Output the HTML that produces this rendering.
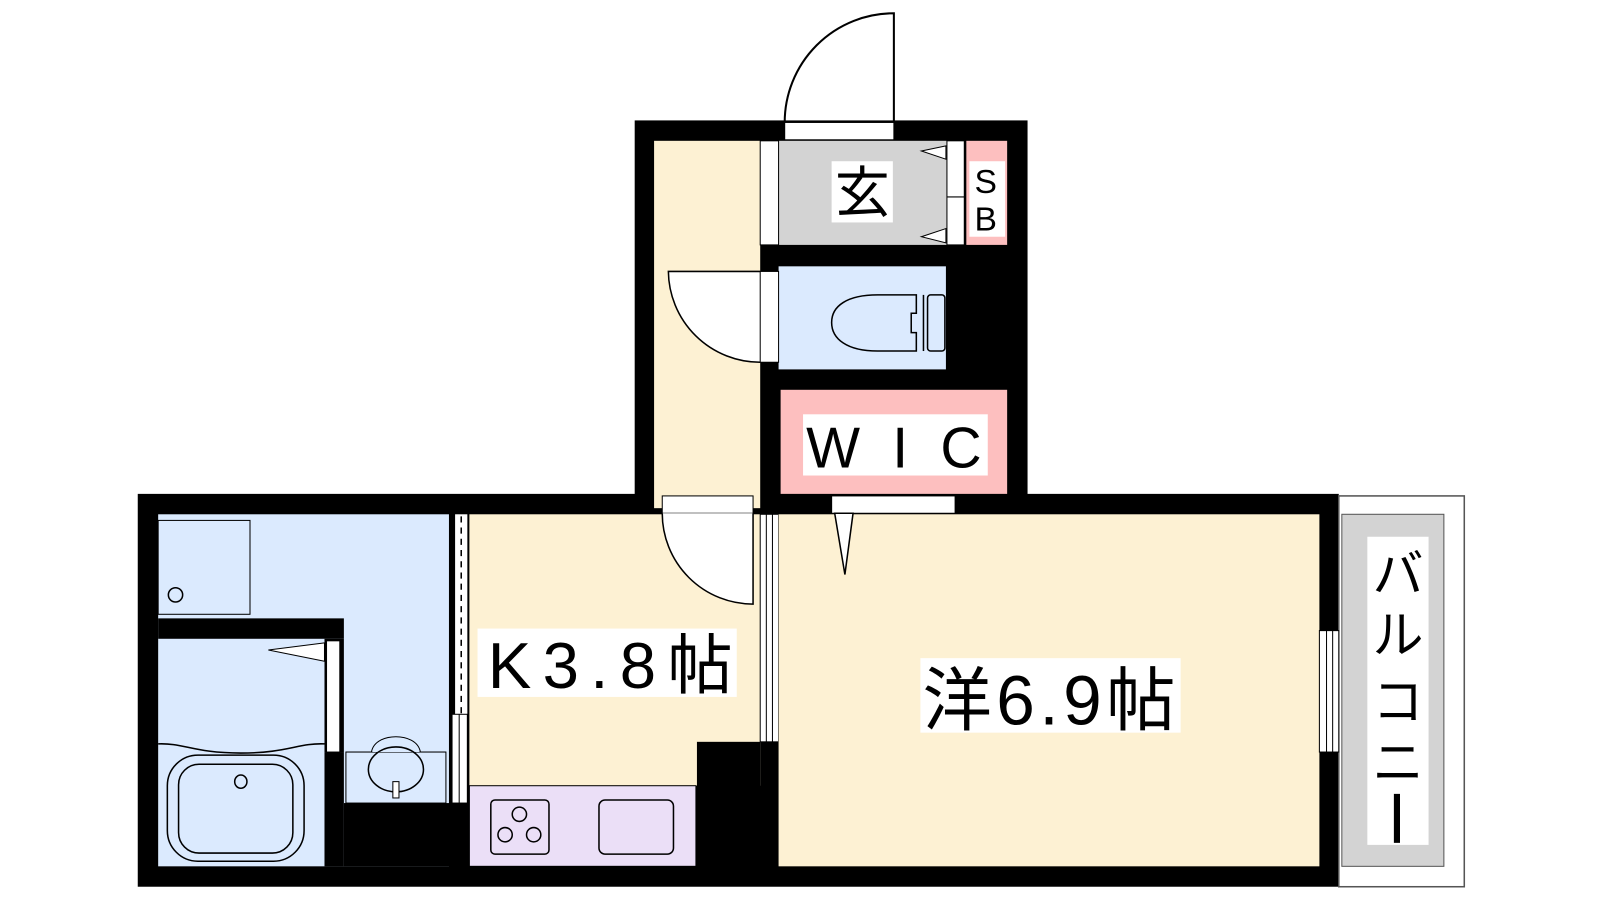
<!DOCTYPE html>
<html><head><meta charset="utf-8"><style>
html,body{margin:0;padding:0;background:#fff;width:1600px;height:900px;overflow:hidden}
svg{display:block}
text{font-family:"Liberation Sans","Noto Sans CJK JP",sans-serif;fill:#000}
</style></head><body>
<svg width="1600" height="900" viewBox="0 0 1568 882" xmlns="http://www.w3.org/2000/svg">
<rect width="1568" height="882" fill="#fff"/>
<path d="M876,120 L876,13 A107,107 0 0 0 769,120" fill="#fff" stroke="#000" stroke-width="2"/>
<rect x="622" y="118" width="385" height="380" fill="#000"/>
<rect x="135" y="484" width="1177" height="385" fill="#000"/>
<rect x="1312" y="486" width="123" height="383" fill="#fff" stroke="#555" stroke-width="1.5"/>
<rect x="1315" y="504" width="100" height="345" fill="#d3d3d3" stroke="#555" stroke-width="1"/>
<rect x="1340" y="526" width="60" height="302" fill="#fff"/>
<text x="1370" y="580" font-size="50" text-anchor="middle">バ</text>
<text x="1370" y="640" font-size="50" text-anchor="middle">ル</text>
<text x="1370" y="705" font-size="50" text-anchor="middle">コ</text>
<text x="1370" y="765" font-size="50" text-anchor="middle">ニ</text>
<rect x="1366" y="778" width="6" height="48" fill="#000"/>

<rect x="641" y="138" width="104" height="360" fill="#fdf1d3"/>
<rect x="769" y="120" width="107" height="17" fill="#fff" stroke="#000" stroke-width="1"/>
<rect x="763" y="138" width="165" height="102" fill="#d3d3d3"/>
<rect x="745" y="138" width="18" height="102" fill="#fff" stroke="#000" stroke-width="1"/>
<rect x="928" y="138" width="17" height="102" fill="#fff" stroke="#000" stroke-width="1"/>
<line x1="928" y1="193" x2="945" y2="193" stroke="#000"/>
<path d="M927,143 L903,148 L927,156 Z M927,224 L903,232 L927,238 Z" fill="#fff" stroke="#000" stroke-width="1"/>
<rect x="947" y="138" width="40" height="102" fill="#fdbfbf"/>
<rect x="950" y="158" width="35" height="74" fill="#fff"/>
<text x="966" y="189" font-size="33" text-anchor="middle">S</text>
<text x="966" y="226" font-size="33" text-anchor="middle">B</text>
<rect x="815" y="158" width="60" height="60" fill="#fff"/>
<text x="845" y="208" font-size="54" text-anchor="middle">玄</text>
<rect x="763" y="261" width="164" height="101" fill="#dbeafe"/>
<path d="M745,266 L655,266 A90,90 0 0 0 745,355" fill="#fff" stroke="#000" stroke-width="1.5"/>
<rect x="745" y="266" width="18" height="89" fill="#fff" stroke="#000" stroke-width="1"/>
<path d="M898,289 L860,289 C830,289 815,300 815,316 C815,332 830,344 860,344 L898,344 L898,326 L893,326 L893,307 L898,307 Z" fill="#dbeafe" stroke="#000" stroke-width="1.5"/>
<line x1="905" y1="289" x2="905" y2="344" stroke="#000" stroke-width="1.5"/>
<rect x="909" y="289" width="17" height="55" rx="3" fill="#dbeafe" stroke="#000" stroke-width="1.5"/>
<rect x="765" y="382" width="222" height="102" fill="#fdbfbf"/>
<rect x="787" y="406" width="181" height="60" fill="#fff"/>
<text x="790" y="458" font-size="56" textLength="172" lengthAdjust="spacing">WIC</text>

<rect x="155" y="504" width="285" height="345" fill="#dbeafe"/>
<rect x="155" y="510" width="90" height="92" fill="#dbeafe" stroke="#000" stroke-width="1"/>
<circle cx="172" cy="583" r="7" fill="none" stroke="#000" stroke-width="1.5"/>
<rect x="155" y="606" width="182" height="20" fill="#000"/>
<rect x="318" y="626" width="19" height="111" fill="#000"/>
<rect x="320" y="628" width="13" height="109" fill="#fff" stroke="#000" stroke-width="1"/>
<path d="M318,630 L263,637 L318,648 Z" fill="#fff" stroke="#000" stroke-width="1"/>
<rect x="318" y="737" width="19" height="112" fill="#000"/>
<rect x="337" y="787" width="123" height="62" fill="#000"/>
<path d="M155,729 C180,728 190,738 236,738 C282,738 292,728 318,729" fill="none" stroke="#000" stroke-width="1.5"/>
<rect x="164" y="740" width="134" height="104" rx="30" fill="none" stroke="#000" stroke-width="1.5"/>
<rect x="175" y="749" width="112" height="87" rx="20" fill="none" stroke="#000" stroke-width="1.5"/>
<ellipse cx="236" cy="766" rx="6" ry="6.5" fill="none" stroke="#000" stroke-width="1.5"/>
<rect x="339" y="737" width="98" height="50" fill="#dbeafe" stroke="#000" stroke-width="1"/>
<path d="M365,737 C365,728 378,723 388,723 C398,723 411,728 411,737 Z" fill="#dbeafe" stroke="none"/>
<path d="M339,737 L364,737 C366,726 378,722 388,722 C398,722 410,726 412,737 L437,737" fill="none" stroke="#000" stroke-width="1"/>
<ellipse cx="388" cy="754" rx="27" ry="22" fill="none" stroke="#000" stroke-width="1.5"/>
<rect x="385" y="766" width="6" height="16" fill="#fff" stroke="#000" stroke-width="1"/>
<rect x="440" y="504" width="20" height="283" fill="#000"/>
<rect x="446" y="504" width="12" height="196" fill="#fff"/>
<line x1="452" y1="506" x2="452" y2="700" stroke="#000" stroke-width="1.5" stroke-dasharray="6,5"/>
<rect x="443" y="700" width="15" height="87" fill="#fff" stroke="#000" stroke-width="1"/>
<line x1="450" y1="700" x2="450" y2="787" stroke="#000" stroke-width="1"/>
<rect x="460" y="504" width="285" height="266" fill="#fdf1d3"/>
<rect x="683" y="727" width="62" height="122" fill="#000"/>
<rect x="460" y="770" width="222" height="79" fill="#ebdff7" stroke="#000" stroke-width="1"/>
<rect x="481" y="784" width="57" height="53" rx="4" fill="none" stroke="#000" stroke-width="1.5"/>
<circle cx="509" cy="798" r="7" fill="none" stroke="#000" stroke-width="1.5"/>
<circle cx="495" cy="818" r="7" fill="none" stroke="#000" stroke-width="1.5"/>
<circle cx="523" cy="818" r="7" fill="none" stroke="#000" stroke-width="1.5"/>
<rect x="587" y="784" width="73" height="53" rx="6" fill="none" stroke="#000" stroke-width="1.5"/>
<rect x="468" y="616" width="254" height="67" fill="#fff"/>
<text x="478" y="674" font-size="64" textLength="240" lengthAdjust="spacing">K3.8帖</text>
<rect x="649" y="486" width="89" height="17" fill="#fff" stroke="#000" stroke-width="1"/>
<path d="M738,503 L738,592 A89,89 0 0 1 649,503" fill="#fff" stroke="#000" stroke-width="1.5"/>
<rect x="745" y="504" width="18" height="223" fill="#fff" stroke="#000" stroke-width="1"/>
<line x1="751" y1="504" x2="751" y2="727" stroke="#000" stroke-width="1"/>
<line x1="757" y1="504" x2="757" y2="727" stroke="#000" stroke-width="1"/>
<rect x="763" y="504" width="530" height="345" fill="#fdf1d3"/>
<rect x="815" y="486" width="121" height="17" fill="#fff" stroke="#000" stroke-width="1"/>
<path d="M818,503 L828,563 L836,503 Z" fill="#fff" stroke="#000" stroke-width="1.5"/>
<rect x="1293" y="618" width="19" height="119" fill="#fff" stroke="#000" stroke-width="1"/>
<line x1="1300" y1="618" x2="1300" y2="737" stroke="#000" stroke-width="1"/>
<line x1="1306" y1="618" x2="1306" y2="737" stroke="#000" stroke-width="1"/>
<rect x="902" y="645" width="255" height="73" fill="#fff"/>
<text x="904" y="710" font-size="68" textLength="248" lengthAdjust="spacing">洋6.9帖</text>
</svg>
</body></html>
